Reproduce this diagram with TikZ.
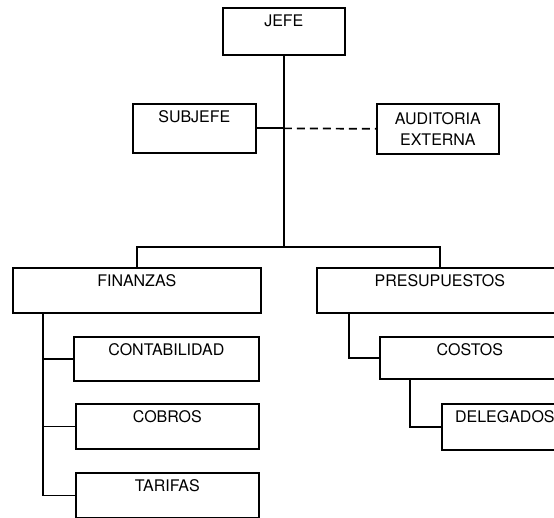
\documentclass[tikz,border=0pt]{standalone}
\usepackage{fontspec}
\setmainfont{TeX Gyre Heros}
\usetikzlibrary{arrows}

\tikzset{
  unit/.style 2 args={draw, line width=1.7pt, inner sep=0pt, anchor=north west,
    font=\fontsize{16}{21}\selectfont, minimum width=#1, text height=19pt, text depth=#2}
}

\begin{document}
\begin{tikzpicture}[x=1pt,y=-1pt]
\useasboundingbox (0,0) rectangle (554,518);
              %boxes
\node[unit={122}{28}] (jefe) at (222,7) {JEFE};
\node[unit={123}{30}] (sub) at (132,103) {SUBJEFE};
\node[unit={122}{0pt}, text height={}, text depth={}, minimum height=50, align=center] (aud) at (376,103) {AUDITORIA\\EXTERNA};
\node[unit={248}{26}] (fin) at (12,267) {FINANZAS};
\node[unit={185}{25}] (cont) at (73,336) {CONTABILIDAD};
\node[unit={183}{26}] (cob) at (75,403) {COBROS};
\node[unit={183}{26}] (tar) at (75,472) {TARIFAS};
\node[unit={246}{26}] (pres) at (316,267) {PRESUPUESTOS};
\node[unit={180}{23}] (cost) at (379,336) {COSTOS};
\node[unit={126}{27}] (del) at (441,403) {DELEGADOS};
              %lines
\begin{scope}[line width=1.7pt]
\draw (jefe.south) -- ++(0,191) coordinate (bus);
\draw (fin.north) |- (bus) -| (pres.north);
\draw (sub.east) -- (sub.east -| bus);
\draw [dash pattern=on 8pt off 5pt] (sub.east -| bus) -- (aud.west);
\foreach \n in {cont,cob,tar}{
\draw (fin.south west) ++(31,0) |- (\n.west);
}
\draw (pres.south west) ++(33,0) |- (cost.west);
\draw (cost.south west) ++(31,0) |- (del.west);
\end{scope}
\end{tikzpicture}
\end{document}
